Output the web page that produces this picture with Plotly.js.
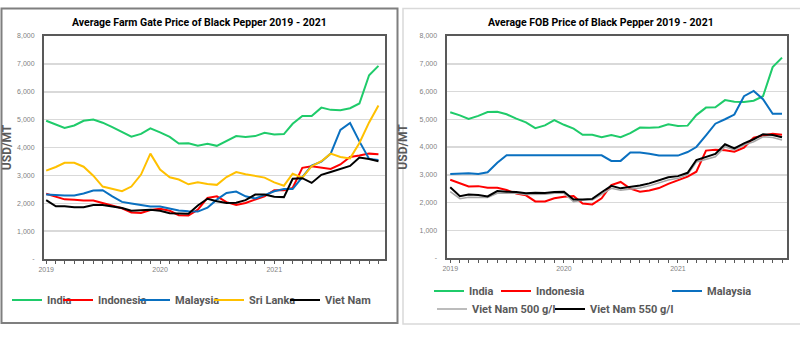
<!DOCTYPE html>
<html>
<head>
<meta charset="utf-8">
<script src="https://cdn.plot.ly/plotly-3.0.1.min.js"></script>
<style>html,body{margin:0;padding:0;background:#fff;}#chart{width:800px;height:360px;}</style>
</head>
<body>
<div id="chart"></div>
<script>
// Months Jan 2019 - Dec 2021
const months = [
  "2019-01-01","2019-02-01","2019-03-01","2019-04-01","2019-05-01","2019-06-01",
  "2019-07-01","2019-08-01","2019-09-01","2019-10-01","2019-11-01","2019-12-01",
  "2020-01-01","2020-02-01","2020-03-01","2020-04-01","2020-05-01","2020-06-01",
  "2020-07-01","2020-08-01","2020-09-01","2020-10-01","2020-11-01","2020-12-01",
  "2021-01-01","2021-02-01","2021-03-01","2021-04-01","2021-05-01","2021-06-01",
  "2021-07-01","2021-08-01","2021-09-01","2021-10-01","2021-11-01","2021-12-01"
];

// Average Farm Gate Price (USD/MT)
const fgIndia     = [4960,4830,4700,4790,4960,5000,4890,4730,4570,4390,4490,4690,4540,4380,4140,4150,4060,4130,4060,4230,4410,4380,4410,4530,4470,4480,4850,5130,5130,5430,5350,5340,5410,5580,6590,6930];
const fgIndonesia = [2340,2240,2140,2130,2100,2100,2000,1910,1820,1670,1650,1760,1800,1730,1570,1560,1770,2190,2250,2040,1940,2010,2130,2250,2470,2470,2550,3270,3330,3270,3230,3390,3660,3710,3780,3760];
const fgMalaysia  = [2310,2290,2280,2280,2350,2460,2470,2250,2050,1990,1940,1880,1880,1810,1740,1710,1700,1840,2130,2370,2420,2250,2170,2290,2430,2510,2510,2940,3350,3490,3780,4630,4880,4220,3590,3550];
const fgSriLanka  = [3170,3300,3450,3450,3310,2990,2600,2510,2430,2600,3030,3780,3210,2930,2850,2680,2750,2690,2660,2940,3120,3040,2990,2920,2750,2630,3060,2920,3330,3510,3780,3660,3610,4160,4900,5510];
const fgVietNam   = [2110,1890,1890,1860,1860,1940,1940,1890,1830,1730,1740,1770,1730,1640,1630,1620,1920,2160,2070,2010,2020,2110,2310,2310,2230,2220,2880,2900,2730,3020,3120,3240,3340,3640,3590,3510];

// Average FOB Price (USD/MT)
const fobIndia     = [5250,5140,5010,5120,5260,5270,5180,5020,4890,4680,4780,4970,4800,4660,4440,4440,4350,4430,4350,4500,4700,4690,4710,4820,4760,4770,5150,5420,5430,5690,5630,5620,5670,5830,6880,7220];
const fobIndonesia = [2820,2690,2580,2590,2530,2530,2450,2320,2260,2040,2040,2150,2210,2230,1960,1930,2150,2630,2740,2500,2390,2430,2520,2670,2810,2930,3110,3870,3900,3880,3830,3980,4340,4400,4480,4440];
const fobMalaysia  = [3030,3050,3050,3030,3090,3430,3700,3700,3700,3700,3700,3700,3700,3700,3700,3700,3700,3500,3500,3800,3800,3760,3690,3690,3690,3820,4000,4420,4840,5000,5170,5830,6020,5720,5200,5200];
const fobVN500     = [2390,2140,2190,2190,2180,2330,2320,2330,2290,2290,2300,2330,2330,2030,2090,2090,2290,2510,2440,2470,2520,2600,2710,2810,2870,3000,3460,3570,3650,4010,3890,4070,4190,4370,4340,4250];
const fobVN550     = [2550,2230,2290,2270,2220,2410,2390,2380,2330,2350,2340,2380,2390,2110,2110,2130,2370,2600,2510,2550,2610,2690,2810,2910,2950,3070,3530,3650,3750,4100,3950,4130,4280,4460,4430,4350];

// Axis labels
const yTickVals = [0,1000,2000,3000,4000,5000,6000,7000,8000];
const yTickText = ["-","1,000","2,000","3,000","4,000","5,000","6,000","7,000","8,000"];
const xTickVals = ["2019-01-01","2020-01-01","2021-01-01"];
const xTickText = ["2019","2020","2021"];

const titleLeft  = "Average Farm Gate Price of Black Pepper 2019 - 2021";
const titleRight = "Average FOB Price of Black Pepper 2019 - 2021";

const C = {green:"#1fcb6a", red:"#ff0000", blue:"#0a70c0", yellow:"#ffc000", black:"#000000", gray:"#a6a6a6"};
const FONT = "Roboto, 'Liberation Sans', sans-serif";
const W = 800, H = 360;
const px = v => v / W, py = v => 1 - v / H;

function tr(y, name, color, xa, ya, legend, width) {
  return {x: months, y: y, name: name, type: "scatter", mode: "lines",
    line: {color: color, width: width || 2}, xaxis: xa, yaxis: ya, legend: legend, hoverinfo: "x+y+name"};
}

const data = [
  tr(fgIndia, "India", C.green, "x", "y", "legend"),
  tr(fgIndonesia, "Indonesia", C.red, "x", "y", "legend2"),
  tr(fgMalaysia, "Malaysia", C.blue, "x", "y", "legend3"),
  tr(fgSriLanka, "Sri Lanka", C.yellow, "x", "y", "legend4"),
  tr(fgVietNam, "Viet Nam", C.black, "x", "y", "legend5"),
  tr(fobIndia, "India", C.green, "x2", "y2", "legend6"),
  tr(fobIndonesia, "Indonesia", C.red, "x2", "y2", "legend7"),
  tr(fobMalaysia, "Malaysia", C.blue, "x2", "y2", "legend8"),
  tr(fobVN500, "Viet Nam 500 g/l", C.gray, "x2", "y2", "legend9", 1.5),
  tr(fobVN550, "Viet Nam 550 g/l", C.black, "x2", "y2", "legend10")
];

function xax(domain, range) {
  return {domain: domain, type: "date", range: range, tickvals: xTickVals, ticktext: xTickText,
    tickfont: {family: "'Liberation Sans',Arial,sans-serif", size: 7, color: "#7f7f7f"},
    ticks: "outside", ticklen: 3, tickcolor: "#595959", tickwidth: 1,
    minor: {dtick: "M1", ticks: "outside", ticklen: 3, tickcolor: "#595959", tickwidth: 1, showgrid: false},
    showline: true, linecolor: "#595959", linewidth: 2, mirror: true, showgrid: false, zeroline: false, fixedrange: true};
}
function yax(domain, anchor) {
  return {domain: domain, anchor: anchor, range: [0, 8000], tickvals: yTickVals, ticktext: yTickText,
    tickfont: {family: "'Liberation Sans',Arial,sans-serif", size: 7, color: "#7f7f7f"},
    ticks: "", ticklabelstandoff: 6,
    showline: true, linecolor: "#595959", linewidth: 2, mirror: true,
    showgrid: true, gridcolor: "#d9d9d9", gridwidth: 1.5, zeroline: false, fixedrange: true,
    title: {text: "USD/MT", font: {family: FONT, size: 12, color: "#595959", weight: "bold"}, standoff: 9}};
}

function leg(xText, yc) {
  return {x: px(xText - 40), xanchor: "left", y: py(yc), yanchor: "middle", orientation: "h",
    bgcolor: "rgba(0,0,0,0)", borderwidth: 0,
    font: {family: FONT, size: 11, color: "#595959", weight: "bold"}};
}

const layout = {
  width: W, height: H, margin: {l: 0, r: 0, t: 0, b: 0},
  paper_bgcolor: "#ffffff", plot_bgcolor: "#ffffff",
  font: {family: FONT},
  xaxis: Object.assign(xax([px(44), px(385)], ["2018-12-25", "2021-12-22"]), {anchor: "y"}),
  yaxis: yax([py(259), py(36)], "x"),
  xaxis2: Object.assign(xax([px(446.5), px(787)], ["2018-12-20", "2021-12-17"]), {anchor: "y2"}),
  yaxis2: yax([py(258), py(36)], "x2"),
  legend: leg(47, 300), legend2: leg(98, 300), legend3: leg(175, 300), legend4: leg(249, 300), legend5: leg(325, 300),
  legend6: leg(469, 291), legend7: leg(536, 291), legend8: leg(707, 291),
  legend9: leg(472, 309), legend10: leg(590, 309),
  annotations: [
    {text: "<b>" + titleLeft + "</b>", x: px(199), y: py(22), xref: "paper", yref: "paper", showarrow: false,
     xanchor: "center", yanchor: "middle", font: {family: FONT, size: 10.5, color: "#000000"}},
    {text: "<b>" + titleRight + "</b>", x: px(601), y: py(22), xref: "paper", yref: "paper", showarrow: false,
     xanchor: "center", yanchor: "middle", font: {family: FONT, size: 10.5, color: "#000000"}}
  ],
  shapes: [
    {type: "rect", xref: "paper", yref: "paper", x0: px(1.5), x1: px(397.5), y0: py(323), y1: py(8.5),
     line: {color: "#7f7f7f", width: 2}, fillcolor: "rgba(0,0,0,0)", layer: "below"},
    {type: "rect", xref: "paper", yref: "paper", x0: px(403), x1: px(802), y0: py(324), y1: py(8.5),
     line: {color: "#d9d9d9", width: 1.5}, fillcolor: "rgba(0,0,0,0)", layer: "below"}
  ],
  showlegend: true
};

Plotly.newPlot("chart", data, layout, {displayModeBar: false, staticPlot: true});
</script>
</body>
</html>
